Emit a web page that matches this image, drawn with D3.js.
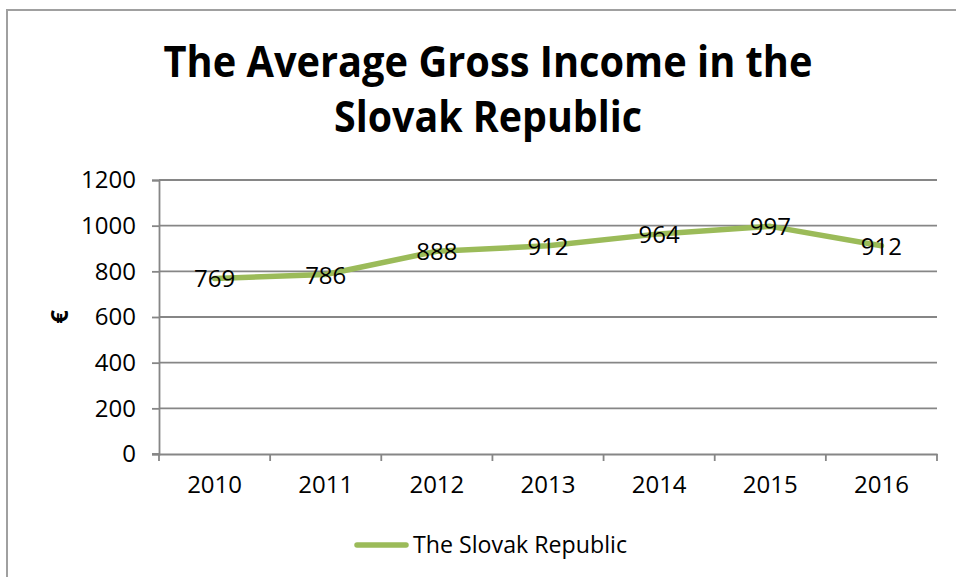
<!DOCTYPE html>
<html>
<head>
<meta charset="utf-8">
<script src="https://cdn.jsdelivr.net/npm/d3@7"></script>
<style>
  html, body { margin: 0; padding: 0; background: #fff; }
  svg { display: block; font-family: "Open Sans", "Noto Sans", sans-serif; }
</style>
</head>
<body>
<svg id="chart" width="956" height="577"></svg>
<script>
const years = ["2010", "2011", "2012", "2013", "2014", "2015", "2016"];
const income = [769, 786, 888, 912, 964, 997, 912];
const yTicks = [0, 200, 400, 600, 800, 1000, 1200];
const titleLines = ["The Average Gross Income in the", "Slovak Republic"];
const seriesName = "The Slovak Republic";
const yAxisLabel = "€";

const svg = d3.select("#chart");
const W = 956, H = 577;
const margin = { left: 159, right: 956 - 937, top: 180, bottom: 577 - 454 };

// outer chart border
svg.append("path")
  .attr("d", `M7,${H} L7,10 L${W},10`)
  .attr("fill", "none")
  .attr("stroke", "#a0a0a0")
  .attr("stroke-width", 2);

const x = d3.scaleBand().domain(years).range([margin.left, W - margin.right]);
const y = d3.scaleLinear().domain([0, 1200]).range([H - margin.bottom, margin.top]);

const gridColor = "#868686";

// gridlines
svg.append("g")
  .selectAll("line")
  .data(yTicks.filter(d => d > 0))
  .join("line")
  .attr("x1", margin.left).attr("x2", W - margin.right)
  .attr("y1", d => y(d)).attr("y2", d => y(d))
  .attr("stroke", gridColor).attr("stroke-width", 1.8);

// y axis
const yAxis = svg.append("g")
  .attr("transform", `translate(${margin.left},0)`)
  .call(d3.axisLeft(y).tickValues(yTicks).tickSize(7).tickPadding(16).tickFormat(d3.format("d")));
yAxis.select(".domain").attr("stroke", gridColor).attr("stroke-width", 1.8);
yAxis.selectAll(".tick line").attr("stroke", gridColor).attr("stroke-width", 1.8);
yAxis.selectAll(".tick text")
  .attr("font-size", 24).attr("fill", "#000")
  .attr("font-family", "'Open Sans', sans-serif");

// x axis
const xAxis = svg.append("g")
  .attr("transform", `translate(0,${y(0)})`)
  .call(d3.axisBottom(x).tickSize(0).tickPadding(22));
xAxis.select(".domain").attr("stroke", gridColor).attr("stroke-width", 1.8);
xAxis.selectAll(".tick text")
  .attr("font-size", 24).attr("fill", "#000")
  .attr("font-family", "'Open Sans', sans-serif");
// category boundary tick marks
const bounds = years.map(d => x(d)).concat([x(years[years.length - 1]) + x.bandwidth()]);
svg.append("g").selectAll("line")
  .data(bounds)
  .join("line")
  .attr("x1", d => d).attr("x2", d => d)
  .attr("y1", y(0)).attr("y2", y(0) + 7)
  .attr("stroke", gridColor).attr("stroke-width", 1.8);
// left overhang of the x axis (0 tick)
svg.append("line")
  .attr("x1", margin.left - 7).attr("x2", margin.left)
  .attr("y1", y(0)).attr("y2", y(0))
  .attr("stroke", gridColor).attr("stroke-width", 1.8);

// line
const cx = d => x(d) + x.bandwidth() / 2;
const data = years.map((yr, i) => ({ yr, v: income[i] }));
svg.append("path")
  .datum(data)
  .attr("fill", "none")
  .attr("stroke", "#9bbb59")
  .attr("stroke-width", 5.5)
  .attr("stroke-linejoin", "round")
  .attr("stroke-linecap", "round")
  .attr("d", d3.line().x(d => cx(d.yr)).y(d => y(d.v)));

// data labels
svg.append("g").selectAll("text")
  .data(data)
  .join("text")
  .attr("x", d => cx(d.yr))
  .attr("y", d => y(d.v) + 9)
  .attr("text-anchor", "middle")
  .attr("font-size", 24)
  .attr("fill", "#000")
  .text(d => d.v);

// title
svg.append("g").selectAll("text")
  .data(titleLines)
  .join("text")
  .attr("x", 488)
  .attr("y", (d, i) => 77 + i * 55)
  .attr("text-anchor", "middle")
  .attr("font-size", 43)
  .attr("font-weight", "bold")
  .attr("fill", "#000")
  .attr("textLength", (d, i) => i === 0 ? 649 : 308)
  .attr("lengthAdjust", "spacingAndGlyphs")
  .text(d => d);

// y axis title
svg.append("text")
  .attr("transform", `translate(68,${y(600)}) rotate(-90)`)
  .attr("text-anchor", "middle")
  .attr("font-size", 24)
  .attr("font-weight", "bold")
  .attr("fill", "#000")
  .text(yAxisLabel);

// legend
svg.append("line")
  .attr("x1", 357).attr("x2", 406)
  .attr("y1", 545).attr("y2", 545)
  .attr("stroke", "#9bbb59").attr("stroke-width", 5.5)
  .attr("stroke-linecap", "round");
svg.append("text")
  .attr("x", 413).attr("y", 553)
  .attr("font-size", 24)
  .attr("fill", "#000")
  .attr("textLength", 214)
  .attr("lengthAdjust", "spacingAndGlyphs")
  .text(seriesName);
</script>
</body>
</html>
